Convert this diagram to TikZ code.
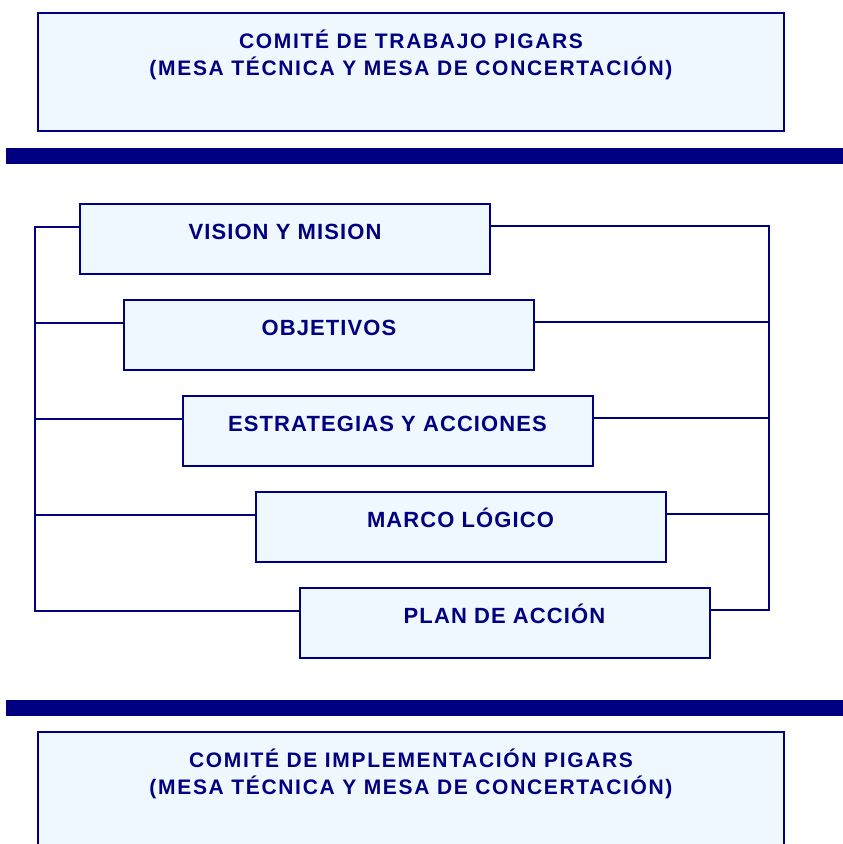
\documentclass[tikz,border=0pt]{standalone}
\usepackage{fontspec}
\usepackage{xcolor}
\usepackage{tikz}

\newfontfamily\titlefont[LetterSpace=8]{Liberation Sans}
\newfontfamily\stagefont[LetterSpace=5]{Liberation Sans}

\definecolor{navyblue}{RGB}{0,0,128}
\definecolor{paleblue}{RGB}{240,248,255}

\tikzset{
  committee/.style={draw=navyblue, line width=2pt, fill=paleblue, anchor=north,
    minimum width=746pt, minimum height=118pt, inner sep=0pt, text=navyblue,
    font=\titlefont\bfseries\fontsize{21}{27}\selectfont,
    text height=35pt, text depth=83pt},
  stage/.style={draw=navyblue, line width=2pt, fill=paleblue, anchor=north,
    minimum width=410pt, minimum height=70pt, inner sep=0pt, text=navyblue,
    font=\stagefont\bfseries\fontsize{22}{26}\selectfont,
    text height=35pt, text depth=35pt},
  link/.style={draw=navyblue, line width=1.6pt}
}

\begin{document}
\begin{tikzpicture}[x=1pt, y=-1pt]
\useasboundingbox (0,0) rectangle (843,844);
\clip (0,0) rectangle (843,844);

% Committees
\node[committee] (trabajo) at (411,12)
    {\begin{tabular}[t]{@{}c@{}}COMITÉ DE TRABAJO PIGARS\\(MESA TÉCNICA Y MESA DE CONCERTACIÓN)\end{tabular}};
\node[committee] (implementacion) at (411,731)
    {\begin{tabular}[t]{@{}c@{}}COMITÉ DE IMPLEMENTACIÓN PIGARS\\(MESA TÉCNICA Y MESA DE CONCERTACIÓN)\end{tabular}};

% Separator bars
\fill[navyblue] (6,148) rectangle (843,164);
\fill[navyblue] (6,700) rectangle (843,716);

% Planning stages
\node[stage] (vision) at (285,203) {VISION Y MISION};
\node[stage] (objetivos) at (329,299) {OBJETIVOS};
\node[stage] (estrategias) at (387.5,395) {ESTRATEGIAS Y ACCIONES};
\node[stage] (marco) at (460.5,491) {MARCO LÓGICO};
\node[stage] (plan) at (504.5,587) {PLAN DE ACCIÓN};

% Side rails
\coordinate (leftrail) at (35,0);
\coordinate (rightrail) at (769,0);
\foreach \s in {vision,objetivos,estrategias,marco,plan} {
  \coordinate (\s-l) at ([yshift=-24pt]\s.north west);
  \coordinate (\s-r) at ([yshift=-23pt]\s.north east);
}

\draw[link] (vision-l) -| (leftrail |- plan-l) -- (plan-l);
\draw[link] (vision-r) -| (rightrail |- plan-r) -- (plan-r);
\foreach \s in {objetivos,estrategias,marco} {
  \draw[link] (\s-l) -- (leftrail |- \s-l);
  \draw[link] (\s-r) -- (rightrail |- \s-r);
}

\end{tikzpicture}
\end{document}
